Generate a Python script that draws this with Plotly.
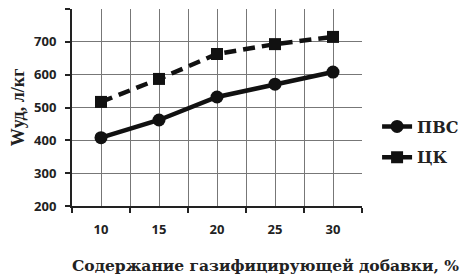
import plotly.graph_objects as go

x_vals = [10, 15, 20, 25, 30]
pvs = [408, 462, 532, 571, 608]
ck = [517, 587, 663, 693, 715]
y_ticks = [200, 300, 400, 500, 600, 700, 800]
x_title = "Содержание газифицирующей добавки, %"
y_title = "Wуд, л/кг"

fig = go.Figure()
fig.add_trace(go.Scatter(
    x=x_vals, y=pvs, name="ПВС", mode="lines+markers",
    line=dict(color="#111", width=4.5),
    marker=dict(symbol="circle", size=13, color="#111"),
    legendgroup="a"))
fig.add_trace(go.Scatter(
    x=x_vals, y=ck, name="ЦК", mode="lines+markers",
    line=dict(color="#111", width=4.5, dash="12px,7px"),
    marker=dict(symbol="square", size=12, color="#111"),
    legendgroup="b"))

fig.add_annotation(
    text=x_title, xref="paper", yref="paper",
    x=(265 - 72) / 290, y=-(265 - 206) / 197, xanchor="center", yanchor="middle",
    showarrow=False,
    font=dict(family="DejaVu Serif", size=15.5, color="#222", weight="bold"))

fig.update_layout(
    width=465, height=272,
    margin=dict(l=64, r=111, t=1, b=74),
    paper_bgcolor="white", plot_bgcolor="white",
    showlegend=True,
    legend=dict(x=1.052, y=0.325, xanchor="left", yanchor="middle",
                font=dict(family="DejaVu Serif", size=16, color="#222", weight="bold"),
                tracegroupgap=7, itemwidth=30),
    xaxis=dict(
        range=[7.5, 32.5], tickvals=x_vals, ticktext=[str(v) for v in x_vals],
        ticks="", showgrid=True, gridcolor="#777", gridwidth=1,
        showline=True, linecolor="#222", linewidth=2, automargin=False,
        ticklabelstandoff=10,
        tickfont=dict(family="Open Sans", size=13, color="#222", weight="bold"),
        minor=dict(tick0=7.5, dtick=5, ticks="outside", ticklen=5, tickcolor="#222",
                   tickwidth=2, showgrid=True, gridcolor="#777", gridwidth=1),
        zeroline=False),
    yaxis=dict(
        range=[200, 800], tickvals=y_ticks, ticks="outside", ticklen=5,
        tickcolor="#222", tickwidth=2, automargin=False,
        ticklabelstandoff=6,
        showgrid=True, gridcolor="#777", gridwidth=1,
        showline=True, linecolor="#222", linewidth=2,
        tickfont=dict(family="Open Sans", size=13, color="#222", weight="bold"),
        title=dict(text=y_title,
                   font=dict(family="Liberation Serif", size=18, color="#222", weight="bold"),
                   standoff=23),
        zeroline=False),
)

fig.write_html("out.html")
